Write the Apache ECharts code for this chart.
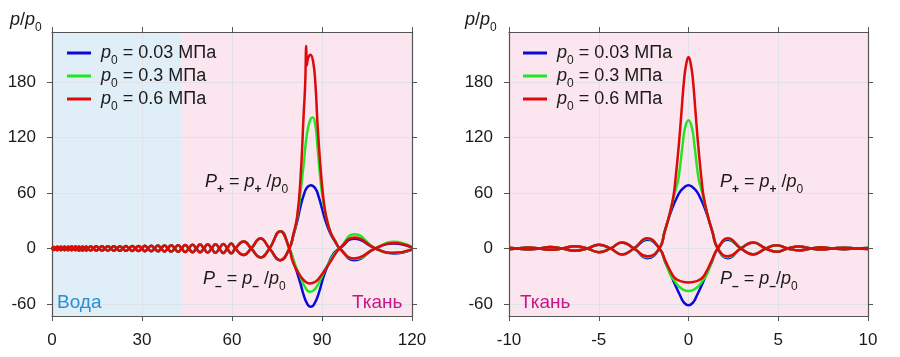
<!DOCTYPE html>
<html>
<head>
<meta charset="utf-8">
<script src="https://cdn.jsdelivr.net/npm/echarts@6.0.0/dist/echarts.min.js"></script>
<style>
html,body{margin:0;padding:0;background:#ffffff;}
#chart{width:900px;height:357px;}
</style>
</head>
<body>
<div id="chart"></div>
<script>
// ================= DATA =================
const pressureNames = ['p0 = 0.03 МПа', 'p0 = 0.3 МПа', 'p0 = 0.6 МПа'];
const pressureValues = ['0.03', '0.3', '0.6'];

const leftXRange = [0, 120];
const leftXInterval = 30;
const rightXRange = [-10, 10];
const rightXInterval = 5;
const yTickRange = [-60, 180];
const yTickInterval = 60;
const yDataRange = [-73, 234];
const waterRegion = [0, 43.3];
const tissueRegionLeft = [43.3, 120];
const tissueRegionRight = [-10, 10];

// ---- Left panel (distance, mm): shared pre-focal oscillation (all pressures overlap)
const leftPreX = [0,0.6,1.2,1.8,2.4,3.0,3.6,4.2,4.8,5.4,6.0,6.6,7.2,7.8,8.4,9.0,9.6,10.2,10.8,11.4,
  12.0,12.9,13.8,14.75,15.7,16.65,17.6,18.6,19.6,20.6,21.6,22.6,23.6,24.65,25.7,26.75,27.8,28.85,29.9,30.95,
  32.0,33.1,34.2,35.3,36.4,37.5,38.6,39.75,40.9,42.05,43.2,44.4,45.6,46.85,48.1,49.35,50.6,51.9,53.2,54.5,
  55.8,57.1,58.4,59.75,61.1,63.9,66.4,69.5,72.5,76.1];
const leftPrePlus = [0,-1.7,0,1.8,0,-1.8,0,1.9,0,-1.9,0,2.0,0,-2.0,0,2.1,0,-2.1,0,2.2,
  0,-2.2,0,2.3,0,-2.3,0,2.4,0,-2.4,0,2.5,0,-2.6,0,2.7,0,-2.8,0,2.9,
  0,-3.0,0,3.1,0,-3.3,0,3.4,0,-3.6,0,3.8,0,-4.0,0,4.2,0,-4.4,0,4.6,
  0,-4.9,0,5.3,0,-7.0,0,10.8,0,-12.6];
const leftPreMinus = [0,1.7,0,-1.8,0,1.8,0,-1.9,0,1.9,0,-2.0,0,2.0,0,-2.1,0,2.1,0,-2.2,
  0,2.2,0,-2.3,0,2.3,0,-2.4,0,2.4,0,-2.5,0,2.6,0,-2.7,0,2.8,0,-2.9,
  0,3.0,0,-3.1,0,3.3,0,-3.4,0,3.6,0,-3.8,0,4.0,0,-4.2,0,4.4,0,-4.6,
  0,4.9,0,-5.3,0,7.5,0,-9.7,0,18.7];

// ---- Left panel focal region
const leftBluePlusX = [79.1,80.5,81.7,82.8,83.9,85.0,86.3,87.8,88.9,90.0,91.1,92.8,94.4,95.9];
const leftBluePlusY = [0,14.4,28.8,45,57.6,65.9,68.4,64.8,55.8,43.2,30.6,16.2,7.2,0];
const leftGreenPlusX = [79.1,80.5,81.7,82.8,83.9,85.0,86.1,86.9,87.8,88.5,89.4,90.5,91.7,92.8,94.4,95.9];
const leftGreenPlusY = [0,15.4,32.4,59.4,91.8,124.2,139.3,141.5,133.2,109.8,77.4,48.6,30.6,18,8.2,0];
const leftRedPlusX = [79.1,80.5,81.7,82.8,83.9,84.4,84.75,84.95,85.3,86.1,87.0,87.8,88.5,89.4,90.3,91.4,92.8,94.4,95.9];
const leftRedPlusY = [0,16.2,34.2,73.8,145.8,178,219,198,205,209.5,203,178,135,92,59,34,18,8,0];

const leftBlueMinusX = [79.1,81.1,82.8,83.9,85.0,86.1,87.2,88.9,90.5,92.2,93.9,95.9];
const leftBlueMinusY = [0,-19.8,-37.8,-50.4,-59.4,-63,-61.2,-48.6,-30.6,-16.2,-5.4,0];
const leftGreenMinusX = [79.1,81.1,82.8,84.4,86.1,87.8,89.4,91.1,92.8,94.4,95.9];
const leftGreenMinusY = [0,-18,-30.6,-42.1,-46.9,-43.3,-34.2,-22.7,-12.6,-4.7,0];
const leftRedMinusX = [79.1,80.0,81.1,82.8,84.4,85.9,87.8,89.4,91.1,92.8,94.4,95.9];
const leftRedMinusY = [0,-11.9,-20.5,-29.9,-35.6,-37.8,-36.0,-30.6,-22.7,-14.4,-6.1,0];

// ---- Left panel post-focal
const leftPostX = [100.8,107.8,113.9,120];
const leftBluePostPlus = [-12.6,0,5.4,1.0];
const leftGreenPostPlus = [-11.5,0,7.2,1.4];
const leftRedPostPlus = [-10.8,0,6.0,1.2];
const leftBluePostMinus = [10.5,0,-5.5,-1.2];
const leftGreenPostMinus = [15.5,0,-5.0,-1.0];
const leftRedPostMinus = [11.8,0,-4.7,-1.0];

// ---- Right panel (radial distance, mm): shared outer oscillations
const rightOuterLX = [-10,-9.54,-8.93,-8.33,-7.7,-7.04,-6.34,-5.64,-5.0,-4.35,-3.7,-3.04];
const rightOuterLPlus = [-0.8,0,1.1,0,-1.5,0,2.4,0,-4.0,0,6.5,0];
const rightOuterLMinus = [0.8,0,-1.1,0,1.5,0,-2.4,0,4.0,0,-6.5,0];
const rightOuterRX = [2.92,3.6,4.31,4.9,5.52,6.17,6.82,7.42,8.02,8.67,9.33,10];
const rightOuterRPlus = [0,6.4,0,-3.5,0,2.1,0,-1.2,0,0.8,0,-0.6];
const rightOuterRMinus = [0,-6.4,0,3.5,0,-2.1,0,1.2,0,-0.8,0,0.6];

// ---- Right panel central lobe
const rightBluePlusX = [-2.3,-1.62,-1.33,-1.2,-0.98,-0.8,-0.61,-0.46,-0.2,0,0.2,0.46,0.61,0.8,0.98,1.2,1.33,1.63,2.2];
const rightBluePlusY = [-10.5,0,18.5,26.5,39.7,48.5,56.5,61.5,66.8,68.4,66.8,61.5,56.5,48.5,39.7,26.5,18.5,0,-10.5];
const rightGreenPlusX = [-2.3,-1.62,-1.33,-1.02,-0.83,-0.7,-0.56,-0.33,-0.2,0,0.2,0.33,0.56,0.7,0.83,1.02,1.33,1.63,2.2];
const rightGreenPlusY = [-9.5,0,18,39.5,55,65,75.7,111.7,129.7,138.6,129.7,111.7,75.7,65,55,39.5,18,0,-9.5];
const rightRedPlusX = [-2.3,-1.62,-1.33,-1.02,-0.83,-0.72,-0.54,-0.39,-0.24,-0.12,0,0.12,0.24,0.39,0.54,0.72,0.83,1.02,1.33,1.63,2.2];
const rightRedPlusY = [-8.5,0,18,39.7,57.7,75.7,111.7,147.7,183.7,200,207,200,183.7,147.7,111.7,75.7,57.7,39.7,18,0,-8.5];

const rightBlueMinusX = [-2.3,-1.62,-1.3,-0.98,-0.74,-0.46,-0.25,0,0.25,0.46,0.74,0.98,1.3,1.63,2.2];
const rightBlueMinusY = [9.5,0,-14.5,-28.8,-39.6,-51.1,-58.5,-61.5,-58.5,-51.1,-39.6,-28.8,-14.5,0,9.5];
const rightGreenMinusX = [-2.3,-1.62,-1.28,-1.0,-0.8,-0.61,-0.3,0,0.3,0.61,0.8,1.0,1.28,1.63,2.2];
const rightGreenMinusY = [10.5,0,-15,-28.8,-34.5,-39.6,-44.5,-46.1,-44.5,-39.6,-34.5,-28.8,-15,0,10.5];
const rightRedMinusX = [-2.3,-1.62,-1.26,-0.98,-0.71,-0.35,0,0.35,0.71,0.98,1.26,1.63,2.2];
const rightRedMinusY = [11,0,-14.5,-25.6,-32.8,-35.8,-36.7,-35.8,-32.8,-25.6,-14.5,0,11];

// ================= STYLE =================
const FONT = '"Liberation Sans", Arial, sans-serif';
const colors = ['#0a0ad8', '#22e622', '#dc0a0a'];
const TEXT = '#1a1a1a';
const AXIS = '#555555';
const GRIDLINE = '#dfe3e8';
const WATER_BG = '#e0eef8';
const TISSUE_BG = '#fbe5ee';

function zip(xs, ys) { return xs.map((x, i) => [x, ys[i]]); }
function cat() { return [].concat.apply([], arguments); }

const leftCurves = [
  { plusX: leftBluePlusX, plusY: leftBluePlusY, minusX: leftBlueMinusX, minusY: leftBlueMinusY, postPlus: leftBluePostPlus, postMinus: leftBluePostMinus },
  { plusX: leftGreenPlusX, plusY: leftGreenPlusY, minusX: leftGreenMinusX, minusY: leftGreenMinusY, postPlus: leftGreenPostPlus, postMinus: leftGreenPostMinus },
  { plusX: leftRedPlusX, plusY: leftRedPlusY, minusX: leftRedMinusX, minusY: leftRedMinusY, postPlus: leftRedPostPlus, postMinus: leftRedPostMinus }
];
const rightCurves = [
  { plusX: rightBluePlusX, plusY: rightBluePlusY, minusX: rightBlueMinusX, minusY: rightBlueMinusY },
  { plusX: rightGreenPlusX, plusY: rightGreenPlusY, minusX: rightGreenMinusX, minusY: rightGreenMinusY },
  { plusX: rightRedPlusX, plusY: rightRedPlusY, minusX: rightRedMinusX, minusY: rightRedMinusY }
];

function lineSeries(name, color, data, xi, yi) {
  return {
    type: 'line', name: name, xAxisIndex: xi, yAxisIndex: yi,
    data: data, smooth: 0.5, symbol: 'none', showSymbol: false,
    lineStyle: { color: color, width: 2.5 }, itemStyle: { color: color },
    emphasis: { disabled: true }, silent: true, z: 3
  };
}

const series = [];
// background regions
series.push({
  type: 'line', xAxisIndex: 0, yAxisIndex: 0, data: [], silent: true, z: -1,
  markArea: {
    silent: true, z: -1,
    data: [
      [{ xAxis: waterRegion[0], itemStyle: { color: WATER_BG } }, { xAxis: waterRegion[1] }],
      [{ xAxis: tissueRegionLeft[0], itemStyle: { color: TISSUE_BG } }, { xAxis: tissueRegionLeft[1] }]
    ]
  }
});
series.push({
  type: 'line', xAxisIndex: 3, yAxisIndex: 4, data: [], silent: true, z: -1,
  markArea: {
    silent: true, z: -1,
    data: [
      [{ xAxis: tissueRegionRight[0], itemStyle: { color: TISSUE_BG } }, { xAxis: tissueRegionRight[1] }]
    ]
  }
});

for (let i = 0; i < 3; i++) {
  const c = leftCurves[i];
  series.push(lineSeries(pressureNames[i], colors[i],
    zip(cat(leftPreX, c.plusX, leftPostX), cat(leftPrePlus, c.plusY, c.postPlus)), 0, 0));
  series.push(lineSeries(pressureNames[i], colors[i],
    zip(cat(leftPreX, c.minusX, leftPostX), cat(leftPreMinus, c.minusY, c.postMinus)), 0, 0));
}
for (let i = 0; i < 3; i++) {
  const c = rightCurves[i];
  series.push(lineSeries(pressureNames[i], colors[i],
    zip(cat(rightOuterLX, c.plusX, rightOuterRX), cat(rightOuterLPlus, c.plusY, rightOuterRPlus)), 3, 4));
  series.push(lineSeries(pressureNames[i], colors[i],
    zip(cat(rightOuterLX, c.minusX, rightOuterRX), cat(rightOuterLMinus, c.minusY, rightOuterRMinus)), 3, 4));
}

const labelStyle = { fontFamily: FONT, fontSize: 17, color: TEXT };
const tickOut = { show: true, inside: false, length: 5, lineStyle: { color: AXIS, width: 1 } };
const frameLine = { show: true, onZero: false, lineStyle: { color: AXIS, width: 1.2 } };
const noLine = { show: false, onZero: false };

function xAxes(gi, range, interval) {
  return [
    { type: 'value', gridIndex: gi, position: 'bottom', min: range[0], max: range[1], interval: interval,
      axisLine: frameLine, axisTick: tickOut,
      axisLabel: Object.assign({ margin: 16 }, labelStyle),
      splitLine: { show: true, lineStyle: { color: GRIDLINE, width: 1 } } },
    { type: 'value', gridIndex: gi, position: 'top', min: range[0], max: range[1], interval: interval,
      axisLine: frameLine, axisTick: tickOut, axisLabel: { show: false }, splitLine: { show: false } },
    { type: 'value', gridIndex: gi + 1, min: range[0], max: range[1], show: false, axisLine: noLine }
  ];
}
function yAxes(gi) {
  return [
    { type: 'value', gridIndex: gi, position: 'left', min: yDataRange[0], max: yDataRange[1],
      axisLine: frameLine, axisTick: { show: false }, axisLabel: { show: false }, splitLine: { show: false } },
    { type: 'value', gridIndex: gi, position: 'right', min: yDataRange[0], max: yDataRange[1],
      axisLine: frameLine, axisTick: { show: false }, axisLabel: { show: false }, splitLine: { show: false } },
    { type: 'value', gridIndex: gi + 1, position: 'left', min: yTickRange[0], max: yTickRange[1], interval: yTickInterval,
      axisLine: noLine, axisTick: tickOut,
      axisLabel: Object.assign({ margin: 16 }, labelStyle),
      splitLine: { show: true, lineStyle: { color: GRIDLINE, width: 1 } } },
    { type: 'value', gridIndex: gi + 1, position: 'right', min: yTickRange[0], max: yTickRange[1], interval: yTickInterval,
      axisLine: noLine, axisTick: tickOut, axisLabel: { show: false }, splitLine: { show: false } }
  ];
}

const richBase = {
  i: { fontFamily: FONT, fontStyle: 'italic', fontSize: 18, color: TEXT, lineHeight: 28 },
  I: { fontFamily: FONT, fontStyle: 'italic', fontSize: 18, color: TEXT, lineHeight: 28 },
  t: { fontFamily: FONT, fontSize: 18, color: TEXT, lineHeight: 28 },
  s: { fontFamily: FONT, fontSize: 12, color: TEXT, lineHeight: 12, verticalAlign: 'bottom' },
  sb: { fontFamily: FONT, fontSize: 12, fontWeight: 'bold', color: TEXT, lineHeight: 13, verticalAlign: 'bottom' }
};
const legendRich = {
  ip: { fontFamily: FONT, fontStyle: 'italic', fontSize: 18, color: TEXT, lineHeight: 28, padding: [0, 0, 0, 5] },
  t: richBase.t, s: richBase.s
};
function legendFormatter(name) {
  const idx = pressureNames.indexOf(name);
  return '{ip|p}{s|0}{t| = ' + pressureValues[idx] + ' МПа}';
}
function legendAt(left) {
  return {
    orient: 'vertical', left: left, top: 39, itemWidth: 24, itemHeight: 3, itemGap: 0,
    icon: 'rect',
    data: pressureNames, formatter: legendFormatter, selectedMode: false,
    textStyle: { rich: legendRich }
  };
}

const plusText = '{I|P}{sb|+}{t| = }{i|p}{sb|+}{t| /}{i|p}{s|0}';
const minusTextLeft = '{I|P}{sb|–}{t| = }{i|p}{sb|–}{t| /}{i|p}{s|0}';
const minusTextRight = '{I|P}{sb|–}{t| = }{i|p}{sb|–}{t|/}{i|p}{s|0}';
const yTitle = '{i|p}{t|/}{i|p}{s|0}';

function richText(text, left, top) {
  return { type: 'text', left: left, top: top, silent: true, z: 10,
    style: { text: text, rich: richBase, fill: TEXT, font: '18px ' + FONT } };
}
function plainText(text, left, top, color) {
  return { type: 'text', left: left, top: top, silent: true, z: 10,
    style: { text: text, fill: color, font: '19px ' + FONT } };
}

const option = {
  animation: false,
  backgroundColor: '#ffffff',
  grid: [
    { left: 52, top: 32, width: 360, height: 284 },
    { left: 52, top: 82, width: 360, height: 222 },
    { left: 509, top: 32, width: 359, height: 284 },
    { left: 509, top: 82, width: 359, height: 222 }
  ],
  xAxis: [].concat(xAxes(0, leftXRange, leftXInterval), xAxes(2, rightXRange, rightXInterval)),
  yAxis: [].concat(yAxes(0), yAxes(2)),
  legend: [legendAt(62), legendAt(518)],
  series: series,
  graphic: [
    richText(yTitle, 10, 11),
    richText(yTitle, 465, 11),
    richText(plusText, 205, 173),
    richText(minusTextLeft, 203, 270),
    richText(plusText, 720, 173),
    richText(minusTextRight, 720, 270),
    plainText('Вода', 57, 293, '#2a8fd0'),
    plainText('Ткань', 352, 293, '#c8168a'),
    plainText('Ткань', 520, 293, '#c8168a')
  ]
};

const chart = echarts.init(document.getElementById('chart'), null, { renderer: 'canvas' });
chart.setOption(option);
</script>
</body>
</html>
